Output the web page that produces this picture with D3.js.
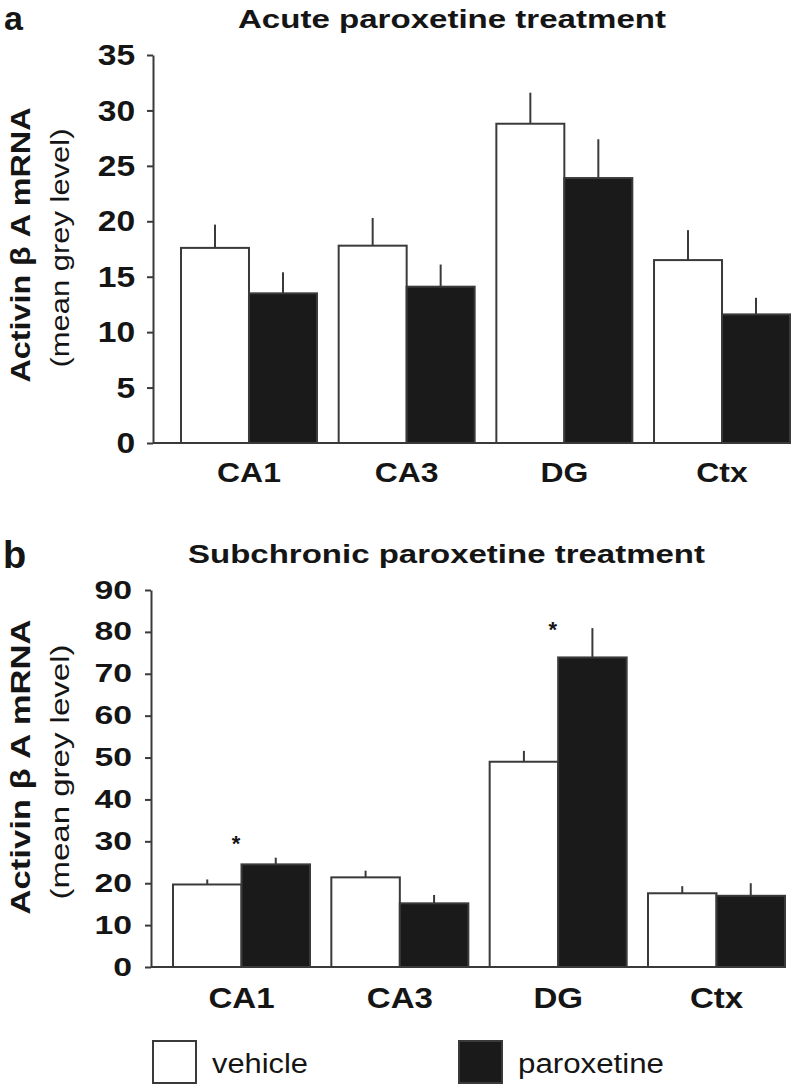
<!DOCTYPE html>
<html>
<head>
<meta charset="utf-8">
<script src="https://cdn.jsdelivr.net/npm/d3@7/dist/d3.min.js"></script>
<style>
  html, body { margin: 0; padding: 0; background: #fff; }
  svg { display: block; font-family: "Liberation Sans", Arial, sans-serif; }
</style>
</head>
<body>
<svg id="chart" width="792" height="1085"></svg>
<script>
// ---------- data ----------
const categories = ["CA1", "CA3", "DG", "Ctx"];
const seriesNames = ["vehicle", "paroxetine"];

// Panel a: acute paroxetine treatment
const acuteVehicle = [17.6, 17.8, 28.8, 16.5];
const acuteVehicleErr = [2.1, 2.5, 2.8, 2.7];
const acuteParoxetine = [13.5, 14.1, 23.9, 11.6];
const acuteParoxetineErr = [1.9, 2.0, 3.5, 1.5];
const acuteTicks = [0, 5, 10, 15, 20, 25, 30, 35];

// Panel b: subchronic paroxetine treatment
const subVehicle = [19.7, 21.4, 49.0, 17.6];
const subVehicleErr = [1.2, 1.6, 2.6, 1.7];
const subParoxetine = [24.5, 15.2, 73.9, 17.0];
const subParoxetineErr = [1.6, 2.0, 7.0, 3.0];
const subTicks = [0, 10, 20, 30, 40, 50, 60, 70, 80, 90];
const subStars = [{cat: "CA1", value: 30.6}, {cat: "DG", value: 81.6}];

// ---------- drawing ----------
const svg = d3.select("#chart");
const INK = "#151515";
const LINE = "#3a3a3a";
const FILLS = {vehicle: "#ffffff", paroxetine: "#1a1a1a"};

function panel(cfg) {
  const g = svg.append("g");
  const y = d3.scaleLinear().domain([0, cfg.ymax]).range([cfg.y0, cfg.y1]);
  const x = d3.scaleBand().domain(categories)
    .range([cfg.xStart, cfg.xEnd]).paddingInner(cfg.padInner).paddingOuter(0);
  const xs = d3.scaleBand().domain(seriesNames).range([0, x.bandwidth()]);

  const rows = [];
  categories.forEach((c, i) => {
    rows.push({cat: c, s: "vehicle", v: cfg.veh[i], e: cfg.vehErr[i]});
    rows.push({cat: c, s: "paroxetine", v: cfg.par[i], e: cfg.parErr[i]});
  });

  // error bars (upper only)
  g.selectAll("line.err").data(rows).join("line")
    .attr("class", "err")
    .attr("x1", d => x(d.cat) + xs(d.s) + xs.bandwidth() / 2)
    .attr("x2", d => x(d.cat) + xs(d.s) + xs.bandwidth() / 2)
    .attr("y1", d => y(d.v))
    .attr("y2", d => y(d.v + d.e))
    .attr("stroke", LINE).attr("stroke-width", 2);

  // bars
  g.selectAll("rect.bar").data(rows).join("rect")
    .attr("class", "bar")
    .attr("x", d => x(d.cat) + xs(d.s))
    .attr("width", xs.bandwidth())
    .attr("y", d => y(d.v))
    .attr("height", d => y(0) - y(d.v))
    .attr("fill", d => FILLS[d.s])
    .attr("stroke", LINE).attr("stroke-width", 2);

  // baseline
  g.append("line")
    .attr("x1", cfg.axisX).attr("x2", cfg.baseEnd)
    .attr("y1", y(0)).attr("y2", y(0))
    .attr("stroke", LINE).attr("stroke-width", 2);

  // y axis
  const ya = g.append("g").attr("transform", `translate(${cfg.axisX},0)`)
    .call(d3.axisLeft(y).tickValues(cfg.ticks).tickSize(6).tickSizeOuter(0).tickPadding(cfg.tickPad));
  ya.select(".domain").attr("stroke", LINE).attr("stroke-width", 2);
  ya.selectAll(".tick line").attr("stroke", LINE).attr("stroke-width", 2);
  ya.selectAll(".tick text")
    .attr("fill", INK)
    .style("font-size", cfg.tickFont + "px").style("font-weight", "bold")
    .attr("transform", `scale(${cfg.tickStretch},1)`);

  // x axis labels
  const xa = g.append("g").attr("transform", `translate(0,${y(0)})`)
    .call(d3.axisBottom(x).tickSize(0));
  xa.select(".domain").remove();
  xa.selectAll(".tick text")
    .attr("fill", INK).attr("y", cfg.catOffset).attr("dy", 0)
    .style("font-size", cfg.catFont + "px").style("font-weight", "bold")
    .attr("transform", "scale(1.14,1)");

  // stars
  if (cfg.stars) {
    g.selectAll("text.star").data(cfg.stars).join("text")
      .attr("class", "star")
      .attr("x", d => x(d.cat) + x.bandwidth() * 0.46)
      .attr("y", d => y(d.value) + 12)
      .attr("text-anchor", "middle")
      .attr("fill", INK)
      .style("font-size", "22px").style("font-weight", "bold")
      .text("*");
  }

  // panel letter
  g.append("text").attr("x", cfg.letterX).attr("y", cfg.letterY)
    .attr("fill", INK).style("font-size", cfg.letterFont + "px").style("font-weight", "bold")
    .text(cfg.letter);

  // title
  g.append("text").attr("x", cfg.titleX).attr("y", cfg.titleY)
    .attr("fill", INK).style("font-size", "26px").style("font-weight", "bold")
    .attr("textLength", cfg.titleLen).attr("lengthAdjust", "spacingAndGlyphs")
    .text(cfg.title);

  // y-axis label (two lines, rotated)
  g.append("text")
    .attr("transform", `translate(${cfg.ylabX1},${cfg.ylabC1}) rotate(-90)`)
    .attr("text-anchor", "middle").attr("fill", INK)
    .style("font-size", "28px").style("font-weight", "bold")
    .attr("textLength", cfg.ylabLen1).attr("lengthAdjust", "spacingAndGlyphs")
    .text("Activin \u03B2 A mRNA");
  g.append("text")
    .attr("transform", `translate(${cfg.ylabX2},${cfg.ylabC2}) rotate(-90)`)
    .attr("text-anchor", "middle").attr("fill", INK)
    .style("font-size", "26px")
    .attr("textLength", cfg.ylabLen2).attr("lengthAdjust", "spacingAndGlyphs")
    .text("(mean grey level)");
}

panel({
  ymax: 35, y0: 443, y1: 55, ticks: acuteTicks,
  xStart: 181, xEnd: 790, padInner: 0.1376,
  axisX: 153, baseEnd: 750, tickPad: 10, tickFont: 30, tickStretch: 1.12,
  catFont: 28, catOffset: 39,
  veh: acuteVehicle, vehErr: acuteVehicleErr, par: acuteParoxetine, parErr: acuteParoxetineErr,
  letter: "a", letterX: 4, letterY: 30, letterFont: 34,
  title: "Acute paroxetine treatment", titleX: 238, titleY: 28, titleLen: 428,
  ylabX1: 30, ylabC1: 245, ylabLen1: 275,
  ylabX2: 69, ylabC2: 248, ylabLen2: 239
});

panel({
  ymax: 90, y0: 967, y1: 590, ticks: subTicks,
  xStart: 173, xEnd: 785, padInner: 0.1347,
  axisX: 151, baseEnd: 785, tickPad: 8, tickFont: 25, tickStretch: 1.35,
  catFont: 29, catOffset: 41,
  veh: subVehicle, vehErr: subVehicleErr, par: subParoxetine, parErr: subParoxetineErr,
  stars: subStars,
  letter: "b", letterX: 3, letterY: 568, letterFont: 38,
  title: "Subchronic paroxetine treatment", titleX: 188, titleY: 563, titleLen: 517,
  ylabX1: 30, ylabC1: 767, ylabLen1: 295,
  ylabX2: 69, ylabC2: 772, ylabLen2: 255
});

// legend
const legend = svg.append("g");
const legendItems = [
  {s: "vehicle", boxX: 153, textX: 212, len: 96},
  {s: "paroxetine", boxX: 459, textX: 518, len: 146}
];
legend.selectAll("rect").data(legendItems).join("rect")
  .attr("x", d => d.boxX).attr("y", 1041).attr("width", 43).attr("height", 42)
  .attr("fill", d => FILLS[d.s]).attr("stroke", LINE).attr("stroke-width", 2);
legend.selectAll("text").data(legendItems).join("text")
  .attr("x", d => d.textX).attr("y", 1073)
  .attr("fill", INK).style("font-size", "27px")
  .attr("textLength", d => d.len).attr("lengthAdjust", "spacingAndGlyphs")
  .text(d => d.s);
</script>
</body>
</html>
